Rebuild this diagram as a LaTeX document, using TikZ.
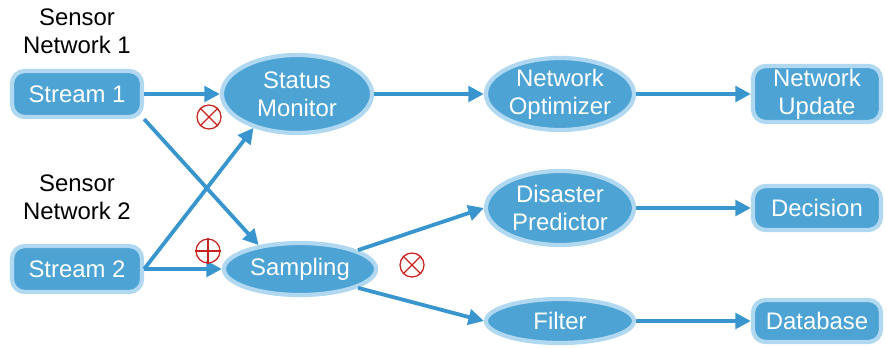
\documentclass[tikz,border=0pt]{standalone}
\usepackage{fontspec}
\setmainfont{Liberation Sans}
\usetikzlibrary{arrows.meta,shapes.geometric}
\definecolor{nodefill}{HTML}{4CA3D4}
\definecolor{nodeedge}{HTML}{B0D8F0}
\definecolor{arrowc}{HTML}{3895CE}
\definecolor{opred}{HTML}{C8231E}
\begin{document}
\begin{tikzpicture}[x=0.025cm,y=-0.025cm,
  every node/.style={font=\fontsize{17}{20}\selectfont},
  boxnode/.style={draw=nodeedge,fill=nodefill,line width=3pt,rounded corners=9pt,text=white,align=center,inner sep=0pt},
  ellnode/.style={ellipse,draw=nodeedge,fill=nodefill,line width=3pt,text=white,align=center,inner sep=0pt},
  conn/.style={draw=arrowc,line width=2.7pt,-{Triangle[length=11pt,width=11pt]}},
  opsym/.style={circle,draw=opred,line width=0.9pt,minimum size=0.6cm,inner sep=0pt},
  lbl/.style={align=center,text=black}]
\useasboundingbox (0,0) rectangle (887,348);
% labels
\node[lbl] (sn1) at (77,31) {Sensor\\Network 1};
\node[lbl] (sn2) at (77,197) {Sensor\\Network 2};
% boxes
\node[boxnode,minimum width=3.25cm,minimum height=1.15cm] (s1) at (77,94) {Stream 1};
\node[boxnode,minimum width=3.25cm,minimum height=1.15cm] (s2) at (77,269) {Stream 2};
\node[boxnode,minimum width=3.2cm,minimum height=1.4cm] (nu) at (817,94) {Network\\Update};
\node[boxnode,minimum width=3.2cm,minimum height=1.1cm] (dec) at (817,208) {Decision};
\node[boxnode,minimum width=3.2cm,minimum height=1.05cm] (db) at (817,321) {Database};
% ellipses
\node[ellnode,minimum width=3.75cm,minimum height=1.95cm] (sm) at (297,94) {Status\\Monitor};
\node[ellnode,minimum width=3.8cm,minimum height=1.3cm] (samp) at (300,269) {Sampling};
\node[ellnode,minimum width=3.7cm,minimum height=1.8cm] (no) at (560,94) {Network\\Optimizer};
\node[ellnode,minimum width=3.7cm,minimum height=1.85cm] (dp) at (560,208) {Disaster\\Predictor};
\node[ellnode,minimum width=3.7cm,minimum height=1.1cm] (fi) at (560,321) {Filter};
% connectors
\draw[conn] (s1.east) -- (sm.west);
\draw[conn] (s1.south east) -- (samp.150);
\draw[conn] (s2.east) -- (sm.218);
\draw[conn] (s2.east) -- (samp.west);
\draw[conn] (sm.east) -- (no.west);
\draw[conn] (samp.18) -- (dp.west);
\draw[conn] (samp.-18) -- (fi.west);
\draw[conn] (no.east) -- (nu.west);
\draw[conn] (dp.east) -- (dec.west);
\draw[conn] (fi.east) -- (db.west);
% operator symbols
\node[opsym] (x1) at (209,117) {};
\draw[opred,line width=0.9pt] (x1.45) -- (x1.225) (x1.135) -- (x1.315);
\node[opsym] (p1) at (208,251) {};
\draw[opred,line width=0.9pt] (p1.north) -- (p1.south) (p1.west) -- (p1.east);
\node[opsym] (x2) at (412,265) {};
\draw[opred,line width=0.9pt] (x2.45) -- (x2.225) (x2.135) -- (x2.315);
\end{tikzpicture}
\end{document}
